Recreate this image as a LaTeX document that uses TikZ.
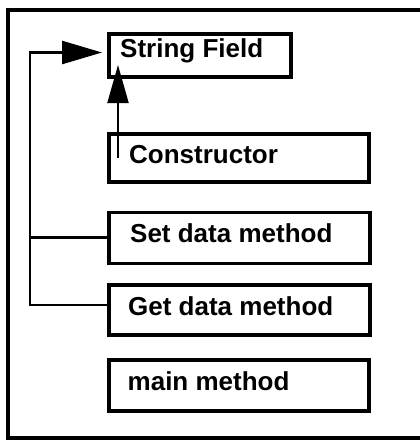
\documentclass[tikz,border=0pt]{standalone}
\usepackage{fontspec}
\setmainfont{Liberation Sans}
\usetikzlibrary{arrows.meta}
\begin{document}
\begin{tikzpicture}[x=1pt,y=-1pt,
  frame/.style={line width=3.5pt},
  classbox/.style={draw,line width=3.5pt,rectangle,inner sep=0pt,outer sep=0pt,anchor=north west},
  label/.style={anchor=base west,inner sep=0pt,font=\fontsize{26}{30}\selectfont\bfseries},
  link/.style={line width=2.5pt},
  bigtip/.style={-{Triangle[length=40pt,width=23pt]}},
  uptip/.style={-{Triangle[length=38pt,width=21pt]}}]
\useasboundingbox (0,0) rectangle (420,440);
% open frame: top, left and bottom rules
\draw[frame] (425,10) -- (8,10) -- (8,438) -- (425,438);
% boxes
\node[classbox,minimum width=182pt,minimum height=43pt] (sf) at (109,34) {};
\node[classbox,minimum width=260pt,minimum height=48pt] (ctor) at (109,134) {};
\node[classbox,minimum width=261pt,minimum height=51pt] (set) at (109,212.7) {};
\node[classbox,minimum width=261pt,minimum height=50pt] (get) at (109,285) {};
\node[classbox,minimum width=260pt,minimum height=51pt] (main) at (109,360) {};
% labels
\node[label] (sfl) at (120,57.7) {String Field};
\node[label] (ctorl) at (129,163) {Constructor};
\node[label] (setl) at (130,242.7) {Set data method};
\node[label] (getl) at (128,315) {Get data method};
\node[label] (mainl) at (127.5,390) {main method};
% connectors
\coordinate (bus) at (30,52.5);
\coordinate (ctorfoot) at (118,158);
\coordinate (sftip) at (118,65);
\draw[link,bigtip,shorten >=7pt] (get.west |- 0,305) -| (bus) -- (sf.west |- bus);
\draw[link] (set.west |- 0,237.3) -- (30,237.3);
\draw[line width=2pt,uptip] (ctorfoot) -- (sftip);
\end{tikzpicture}
\end{document}
